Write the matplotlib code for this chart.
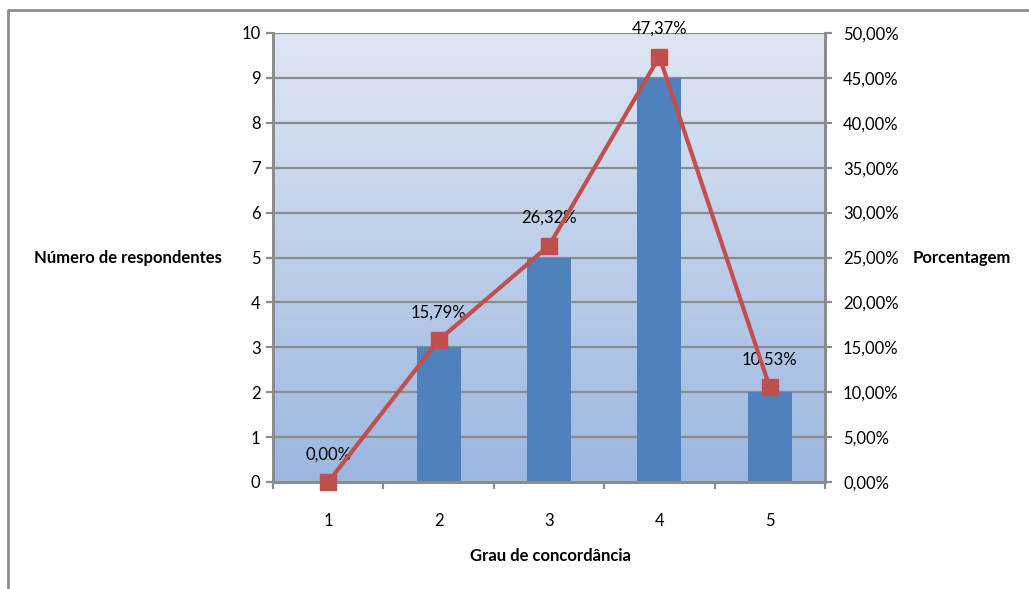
import matplotlib
matplotlib.use("Agg")
import matplotlib.pyplot as plt
import numpy as np
from matplotlib.ticker import FuncFormatter, FixedLocator
from matplotlib.lines import Line2D
from matplotlib.colors import LinearSegmentedColormap

plt.rcParams['font.family'] = ['Lato', 'DejaVu Sans']

categories = [1, 2, 3, 4, 5]
respondents = [0, 3, 5, 9, 2]
percentages = [0.00, 15.79, 26.32, 47.37, 10.53]

W, H = 1029, 589
fig = plt.figure(figsize=(W / 100, H / 100), dpi=100)
ax = fig.add_axes([273 / W, 1 - 482 / H, (825 - 273) / W, (482 - 33) / H])

# gradient plot-area fill
grad = np.linspace(0, 1, 256).reshape(-1, 1)
cmap = LinearSegmentedColormap.from_list("bg", ["#dfe6f3", "#9bb7e0"])
ax.imshow(grad, aspect="auto", cmap=cmap, extent=[0, 1, 0, 1],
          transform=ax.transAxes, zorder=0, interpolation="bilinear")

grid_c = "#8c8c8c"
fs = 12
x = np.array(categories)
ax.bar(x, respondents, width=0.4, color="#4f81bd", zorder=2)
ax.set_xlim(0.5, 5.5)
ax.set_ylim(0, 10)
ax.set_yticks(range(0, 11))
for v in range(1, 11):
    ax.axhline(v, color=grid_c, lw=1.6, zorder=1)

ax.xaxis.set_major_locator(FixedLocator([0.5, 1.5, 2.5, 3.5, 4.5, 5.5]))
ax.xaxis.set_major_formatter(FuncFormatter(lambda v, p: ""))
ax.xaxis.set_minor_locator(FixedLocator(categories))
ax.xaxis.set_minor_formatter(FuncFormatter(lambda v, p: f"{int(round(v))}"))
ax.tick_params(axis="x", which="major", direction="out", length=5, width=1.6, color=grid_c)
ax.tick_params(axis="x", which="minor", length=0, pad=22, labelsize=fs)
ax.tick_params(axis="y", direction="out", length=5, width=1.6, color=grid_c,
               labelsize=fs, pad=4)

for s in ["left", "bottom", "right"]:
    ax.spines[s].set_color(grid_c)
    ax.spines[s].set_linewidth(2)
ax.spines["top"].set_visible(False)

ax2 = ax.twinx()
ax2.set_ylim(0, 50)
ax2.set_yticks(range(0, 51, 5))
ax2.yaxis.set_major_formatter(FuncFormatter(lambda v, p: f"{v:.2f}".replace(".", ",") + "%"))
ax2.tick_params(axis="y", direction="out", length=5, width=1.6, color=grid_c,
                labelsize=fs, pad=8)
for s in ["left", "bottom", "right"]:
    ax2.spines[s].set_color(grid_c)
    ax2.spines[s].set_linewidth(2)
ax2.spines["top"].set_visible(False)

ax2.plot(x, percentages, color="#c0504d", lw=3, marker="s", markersize=11,
         markerfacecolor="#c0504d", markeredgecolor="#c0504d", zorder=5, clip_on=False)
for xi, p in zip(x, percentages):
    ax2.annotate(f"{p:.2f}".replace(".", ",") + "%", (xi, p), xytext=(0, 20),
                 textcoords="offset points", ha="center", va="center", fontsize=fs)

fig.text(222 / W, 1 - 258 / H, "Número de respondentes", ha="right", va="center",
         fontsize=fs, fontweight="bold")
fig.text(913 / W, 1 - 258 / H, "Porcentagem", ha="left", va="center",
         fontsize=fs, fontweight="bold")
fig.text(550 / W, 1 - 556 / H, "Grau de concordância", ha="center", va="center",
         fontsize=fs, fontweight="bold")

# chart frame
fig.add_artist(Line2D([8 / W, 8 / W, 1.0], [0.0, 1 - 10 / H, 1 - 10 / H],
                      transform=fig.transFigure, color=grid_c, lw=2))

fig.savefig("out.png", dpi=100)
